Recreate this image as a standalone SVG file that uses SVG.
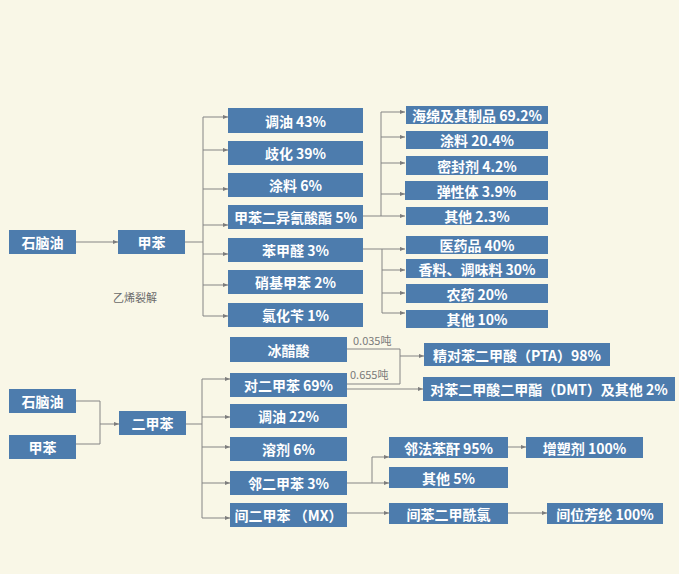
<svg xmlns="http://www.w3.org/2000/svg" width="679" height="574" viewBox="0 0 679 574">
<defs>
<marker id="ah" viewBox="0 0 6 6" refX="6" refY="3" markerWidth="5" markerHeight="5" orient="auto" markerUnits="userSpaceOnUse"><path d="M0,0.5 L6,3 L0,5.5 z" fill="#7d7d7d"/></marker>
<style>
.b{fill:#4d7cad;}
.t{fill:#ffffff;font-family:"Noto Sans CJK SC","Noto Sans",sans-serif;font-weight:bold;font-size:14px;text-anchor:middle;dominant-baseline:central;}
.c{fill:none;stroke:#858585;stroke-width:1;}
.a{fill:none;stroke:#858585;stroke-width:1;marker-end:url(#ah);}
.l{fill:#7a7a7a;font-family:"Noto Sans CJK SC","Noto Sans",sans-serif;font-size:11px;}
</style>
</defs>
<rect width="679" height="574" fill="#f9f7e7"/>
<g id="connectors">
<path class="a" d="M76,242 H118"/>
<path class="c" d="M185,242 H203 M203,117 V316"/>
<path class="a" d="M203,117 H228"/>
<path class="a" d="M203,150 H228"/>
<path class="a" d="M203,189 H228"/>
<path class="a" d="M203,225 H228"/>
<path class="a" d="M203,254 H228"/>
<path class="a" d="M203,285 H228"/>
<path class="a" d="M203,316 H228"/>
<path class="c" d="M363,216 H381 M381,112 V216"/>
<path class="a" d="M381,112 H405"/>
<path class="a" d="M381,137 H405"/>
<path class="a" d="M381,163 H405"/>
<path class="a" d="M381,194 H405"/>
<path class="a" d="M381,216 H405"/>
<path class="c" d="M363,249 H382 M382,249 V313"/>
<path class="a" d="M382,249 H405"/>
<path class="a" d="M382,270 H405"/>
<path class="a" d="M382,293 H405"/>
<path class="a" d="M382,313 H405"/>
<path class="c" d="M76,401 H100 M76,444 H100 M100,401 V444"/>
<path class="a" d="M100,424 H119"/>
<path class="c" d="M186,424 H202 M202,379 V518"/>
<path class="a" d="M202,379 H230"/>
<path class="a" d="M202,417 H230"/>
<path class="a" d="M202,447 H230"/>
<path class="a" d="M202,483 H230"/>
<path class="a" d="M202,518 H230"/>
<path class="c" d="M347,349 H400 V384 H347"/>
<path class="a" d="M400,356 H424"/>
<path class="a" d="M347,389 H423"/>
<path class="c" d="M347,483 H372 M372,457 V483"/>
<path class="a" d="M372,457 H389"/>
<path class="a" d="M372,483 H389"/>
<path class="a" d="M508,447 H526"/>
<path class="a" d="M347,513 H389"/>
<path class="a" d="M508,513 H547"/>
</g>
<text class="l" x="353" y="345">0.035吨</text>
<text class="l" x="350" y="379">0.655吨</text>
<text x="113" y="302" style="fill:#6a6a6a;font-family:'Noto Sans CJK SC',sans-serif;font-size:11px;">乙烯裂解</text>
<g id="n1"><rect class="b" x="9" y="230" width="67" height="24"/><text class="t" x="42.5" y="242">石脑油</text></g>
<g id="n2"><rect class="b" x="118" y="230" width="67" height="24"/><text class="t" x="151.5" y="242">甲苯</text></g>
<g id="n3"><rect class="b" x="228" y="108" width="135" height="25"/><text class="t" x="295.5" y="120.5">调油 43%</text></g>
<g id="n4"><rect class="b" x="228" y="141" width="135" height="24"/><text class="t" x="295.5" y="153">歧化 39%</text></g>
<g id="n5"><rect class="b" x="228" y="173" width="135" height="24"/><text class="t" x="295.5" y="185">涂料 6%</text></g>
<g id="n6"><rect class="b" x="228" y="205" width="135" height="24"/><text class="t" x="295.5" y="217">甲苯二异氰酸酯 5%</text></g>
<g id="n7"><rect class="b" x="228" y="238" width="135" height="24"/><text class="t" x="295.5" y="250">苯甲醛 3%</text></g>
<g id="n8"><rect class="b" x="228" y="270" width="135" height="24"/><text class="t" x="295.5" y="282">硝基甲苯 2%</text></g>
<g id="n9"><rect class="b" x="228" y="303" width="135" height="24"/><text class="t" x="295.5" y="315">氯化苄 1%</text></g>
<g id="n10"><rect class="b" x="406" y="106" width="142" height="18"/><text class="t" x="477" y="115">海绵及其制品 69.2%</text></g>
<g id="n11"><rect class="b" x="406" y="131" width="142" height="18"/><text class="t" x="477" y="140">涂料 20.4%</text></g>
<g id="n12"><rect class="b" x="406" y="156" width="142" height="19"/><text class="t" x="477" y="165.5">密封剂 4.2%</text></g>
<g id="n13"><rect class="b" x="405" y="181" width="143" height="19"/><text class="t" x="476.5" y="190.5">弹性体 3.9%</text></g>
<g id="n14"><rect class="b" x="406" y="207" width="142" height="18"/><text class="t" x="477" y="216">其他 2.3%</text></g>
<g id="n15"><rect class="b" x="406" y="236" width="142" height="18"/><text class="t" x="477" y="245">医药品 40%</text></g>
<g id="n16"><rect class="b" x="406" y="259" width="142" height="19"/><text class="t" x="477" y="268.5">香料、调味料 30%</text></g>
<g id="n17"><rect class="b" x="406" y="284" width="142" height="19"/><text class="t" x="477" y="293.5">农药 20%</text></g>
<g id="n18"><rect class="b" x="406" y="310" width="142" height="18"/><text class="t" x="477" y="319">其他 10%</text></g>
<g id="n19"><rect class="b" x="9" y="389" width="67" height="24"/><text class="t" x="42.5" y="401">石脑油</text></g>
<g id="n20"><rect class="b" x="9" y="435" width="67" height="24"/><text class="t" x="42.5" y="447">甲苯</text></g>
<g id="n21"><rect class="b" x="119" y="411" width="67" height="24"/><text class="t" x="152.5" y="423">二甲苯</text></g>
<g id="n22"><rect class="b" x="230" y="337" width="117" height="25"/><text class="t" x="288.5" y="349.5">冰醋酸</text></g>
<g id="n23"><rect class="b" x="230" y="373" width="117" height="24"/><text class="t" x="288.5" y="385">对二甲苯 69%</text></g>
<g id="n24"><rect class="b" x="230" y="404" width="117" height="24"/><text class="t" x="288.5" y="416">调油 22%</text></g>
<g id="n25"><rect class="b" x="230" y="437" width="117" height="24"/><text class="t" x="288.5" y="449">溶剂 6%</text></g>
<g id="n26"><rect class="b" x="230" y="471" width="117" height="24"/><text class="t" x="288.5" y="483">邻二甲苯 3%</text></g>
<g id="n27"><rect class="b" x="230" y="503" width="117" height="24"/><text class="t" x="288.5" y="515">间二甲苯 （MX）</text></g>
<g id="n28"><rect class="b" x="424" y="343" width="186" height="23"/><text class="t" x="517" y="354.5">精对苯二甲酸（PTA）98%</text></g>
<g id="n29"><rect class="b" x="423" y="377" width="252" height="24"/><text class="t" x="549" y="389">对苯二甲酸二甲酯（DMT）及其他 2%</text></g>
<g id="n30"><rect class="b" x="389" y="437" width="119" height="21"/><text class="t" x="448.5" y="447.5">邻法苯酐 95%</text></g>
<g id="n31"><rect class="b" x="389" y="467" width="119" height="21"/><text class="t" x="448.5" y="477.5">其他 5%</text></g>
<g id="n32"><rect class="b" x="526" y="437" width="117" height="21"/><text class="t" x="584.5" y="447.5">增塑剂 100%</text></g>
<g id="n33"><rect class="b" x="389" y="503" width="119" height="21"/><text class="t" x="448.5" y="513.5">间苯二甲酰氯</text></g>
<g id="n34"><rect class="b" x="547" y="503" width="116" height="21"/><text class="t" x="605" y="513.5">间位芳纶 100%</text></g>
</svg>
